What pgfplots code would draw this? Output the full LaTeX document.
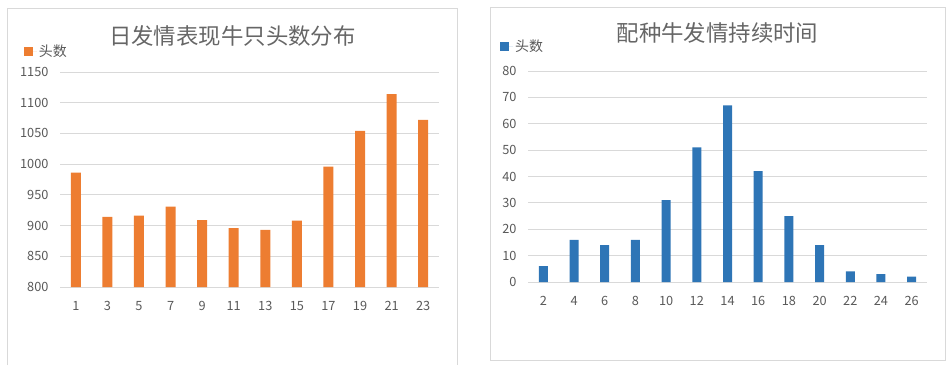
\documentclass[border=0pt]{standalone}
\usepackage{fontspec}
\setmainfont{Noto Sans CJK SC}
\usepackage{pgfplots}
\pgfplotsset{compat=1.18}
\definecolor{xorange}{HTML}{ED7D31}
\definecolor{xblue}{HTML}{2E75B6}
\definecolor{xgrid}{HTML}{D9D9D9}
\definecolor{xtext}{HTML}{595959}
\definecolor{xtitle}{HTML}{666666}
\pgfplotsset{
  excel/.style={
    scale only axis,
    anchor=south west,
    ymajorgrids,
    grid style={xgrid, line width=0.8bp},
    axis line style={draw=none},
    major tick length=0pt,
    tick label style={font=\fontsize{12.8}{15}\selectfont, text=xtext},
    yticklabel style={xshift=-8bp},
    xticklabel style={yshift=-11bp},
    /pgf/number format/assume math mode=true,
    /pgf/number format/1000 sep={},
    title style={font=\fontsize{22.5}{26}\selectfont, text=xtitle, anchor=center},
    legend style={draw=none, fill=none, inner sep=0pt, outer sep=0pt, anchor=west,
      font=\fontsize{14}{16}\selectfont, text=xtext},
    legend image code/.code={\fill[#1] (0bp,-4.5bp) rectangle (9bp,4.5bp); \path (9bp,0bp) -- (13bp,0bp);},
  }
}
\begin{document}
\begin{tikzpicture}[x=1bp,y=1bp]
\path[use as bounding box] (0,0) rectangle (951,365);
\draw[xgrid, line width=0.8bp] (7.5,0) -- (7.5,357) -- (457.5,357) -- (457.5,0);
\draw[xgrid, line width=0.8bp] (490.5,4.5) rectangle (945.5,357.5);
\begin{axis}[excel,
  at={(60bp,78bp)}, width=379bp, height=215bp,
  xmin=0, xmax=24, ymin=800, ymax=1150,
  ytick={800,850,...,1150}, xtick={1,3,...,23},
  title={日发情表现牛只头数分布},
  title style={at={(0.455,1.142)}},
  legend style={at={(-0.095,1.095)}},
]
\addplot[ybar, fill=xorange, draw=none, bar width=10bp] coordinates {
(1,986) (3,914) (5,916) (7,931) (9,909) (11,896) (13,893) (15,908) (17,996) (19,1054) (21,1114) (23,1072)};
\addlegendentry{头数}
\end{axis}
\begin{axis}[excel,
  at={(528bp,83bp)}, width=399bp, height=211bp,
  xmin=1, xmax=27, ymin=0, ymax=80,
  ytick={0,10,...,80}, xtick={2,4,...,26},
  title={配种牛发情持续时间},
  title style={at={(0.475,1.15)}},
  legend style={at={(-0.070,1.118)}},
]
\addplot[ybar, fill=xblue, draw=none, bar width=9bp] coordinates {
(2,6) (4,16) (6,14) (8,16) (10,31) (12,51) (14,67) (16,42) (18,25) (20,14) (22,4) (24,3) (26,2)};
\addlegendentry{头数}
\end{axis}
\end{tikzpicture}
\end{document}
